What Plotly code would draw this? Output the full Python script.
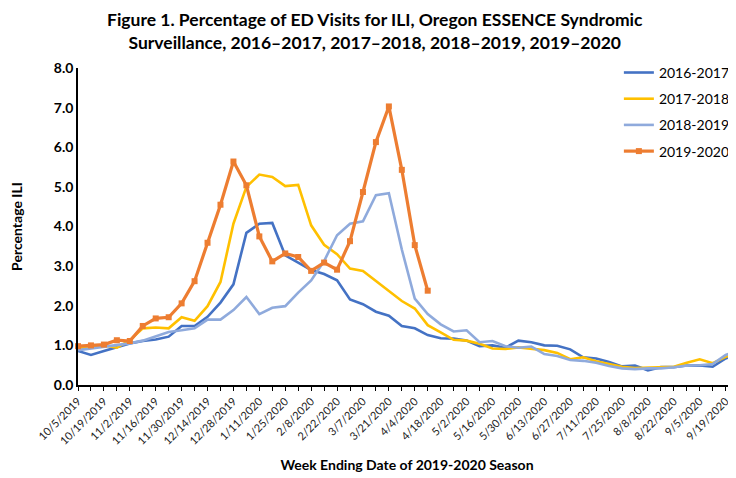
import plotly.graph_objects as go

week_labels = ["10/5/2019", "10/12/2019", "10/19/2019", "10/26/2019", "11/2/2019", "11/9/2019",
               "11/16/2019", "11/23/2019", "11/30/2019", "12/7/2019", "12/14/2019", "12/21/2019",
               "12/28/2019", "1/4/2020", "1/11/2020", "1/18/2020", "1/25/2020", "2/1/2020",
               "2/8/2020", "2/15/2020", "2/22/2020", "2/29/2020", "3/7/2020", "3/14/2020",
               "3/21/2020", "3/28/2020", "4/4/2020", "4/11/2020", "4/18/2020", "4/25/2020",
               "5/2/2020", "5/9/2020", "5/16/2020", "5/23/2020", "5/30/2020", "6/6/2020",
               "6/13/2020", "6/20/2020", "6/27/2020", "7/4/2020", "7/11/2020", "7/18/2020",
               "7/25/2020", "8/1/2020", "8/8/2020", "8/15/2020", "8/22/2020", "8/29/2020",
               "9/5/2020", "9/12/2020", "9/19/2020", "9/26/2020"]

s2016_2017 = [0.86, 0.76, 0.86, 0.95, 1.05, 1.11, 1.15, 1.22, 1.49, 1.49, 1.72, 2.08,
              2.54, 3.84, 4.07, 4.09, 3.27, 3.09, 2.90, 2.80, 2.64, 2.16, 2.04, 1.85,
              1.75, 1.49, 1.43, 1.26, 1.18, 1.17, 1.12, 0.98, 1.00, 0.94, 1.12, 1.08,
              1.00, 0.99, 0.90, 0.70, 0.67, 0.58, 0.47, 0.49, 0.37, 0.45, 0.45, 0.49,
              0.49, 0.46, 0.67, 0.80]

s2017_2018 = [0.92, 0.95, 1.00, 0.94, 1.13, 1.43, 1.45, 1.43, 1.71, 1.62, 1.99, 2.60,
              4.07, 5.00, 5.31, 5.25, 5.02, 5.05, 4.03, 3.54, 3.30, 2.94, 2.88, 2.62,
              2.38, 2.12, 1.93, 1.51, 1.33, 1.14, 1.12, 1.04, 0.92, 0.91, 0.95, 0.92,
              0.88, 0.81, 0.65, 0.70, 0.60, 0.53, 0.46, 0.43, 0.44, 0.45, 0.46, 0.56,
              0.65, 0.55, 0.71, 0.80]

s2018_2019 = [0.88, 0.92, 0.96, 1.00, 1.05, 1.12, 1.23, 1.34, 1.38, 1.43, 1.65, 1.65,
              1.89, 2.22, 1.79, 1.95, 1.99, 2.33, 2.64, 3.13, 3.78, 4.07, 4.13, 4.79,
              4.84, 3.42, 2.18, 1.79, 1.53, 1.35, 1.38, 1.08, 1.11, 0.98, 0.94, 0.97,
              0.78, 0.73, 0.63, 0.61, 0.56, 0.48, 0.42, 0.40, 0.42, 0.42, 0.45, 0.49,
              0.50, 0.53, 0.76, 0.86]

s2019_2020 = [0.98, 1.00, 1.02, 1.13, 1.11, 1.49, 1.68, 1.71, 2.06, 2.62, 3.59, 4.55,
              5.64, 5.04, 3.75, 3.12, 3.32, 3.23, 2.88, 3.09, 2.91, 3.63, 4.87, 6.13,
              7.03, 5.43, 3.53, 2.38]

x_all = list(range(len(week_labels)))
tick_text = [lab if i % 2 == 0 else "" for i, lab in enumerate(week_labels)]

FONT = "Lato"

fig = go.Figure()
series = [
    ("2016-2017", s2016_2017, "#4472C4", 2.6, False),
    ("2017-2018", s2017_2018, "#FFC000", 2.6, False),
    ("2018-2019", s2018_2019, "#8FAADC", 2.6, False),
    ("2019-2020", s2019_2020, "#ED7D31", 3.2, True),
]
for name, vals, color, w, mk in series:
    fig.add_trace(go.Scatter(
        x=x_all[:len(vals)], y=vals, name=name,
        mode="lines+markers" if mk else "lines",
        line=dict(color=color, width=w),
        marker=dict(symbol="square", size=6, color=color) if mk else None,
        legendgroup=name, cliponaxis=not mk,
    ))

fig.add_annotation(
    text="<b>Figure 1. Percentage of ED Visits for ILI, Oregon ESSENCE Syndromic<br>"
         "Surveillance, 2016–2017, 2017–2018, 2018–2019, 2019–2020</b>",
    xref="paper", yref="paper", x=0.451, y=1.117, xanchor="center", yanchor="middle",
    showarrow=False, align="center",
    font=dict(family=FONT, size=17.5, color="#000000"),
)

fig.update_layout(
    width=728, height=470,
    margin=dict(l=70, r=0, t=60, b=93),
    paper_bgcolor="white", plot_bgcolor="white",
    font=dict(family=FONT, color="#000000"),
    showlegend=True,
    legend=dict(
        x=0.822, y=1.035, xanchor="left", yanchor="top",
        font=dict(family=FONT, size=14, color="#000000"),
        bgcolor="rgba(0,0,0,0)", tracegroupgap=5, itemwidth=30,
        traceorder="grouped",
    ),
    xaxis=dict(
        range=[0, 50.8], tickmode="array", tickvals=x_all, ticktext=tick_text,
        tickangle=-45, tickfont=dict(family=FONT, size=11, color="#222222"),
        showline=True, linecolor="#000000", linewidth=1.5,
        ticks="outside", ticklen=4, tickcolor="#000000",
        showgrid=False, zeroline=False,
        title=dict(text="Week Ending Date of 2019-2020 Season",
                   font=dict(family=FONT, size=14, weight="bold", color="#000000"),
                   standoff=14),
    ),
    yaxis=dict(
        range=[0, 8], dtick=1, tickformat=".1f",
        tickfont=dict(family=FONT, size=14, weight="bold", color="#000000"),
        showline=True, linecolor="#000000", linewidth=1.5,
        ticks="", showgrid=False, zeroline=False,
        title=dict(text="Percentage ILI",
                   font=dict(family=FONT, size=14, weight="bold", color="#000000"),
                   standoff=28),
    ),
)

fig.write_html("out.html")
